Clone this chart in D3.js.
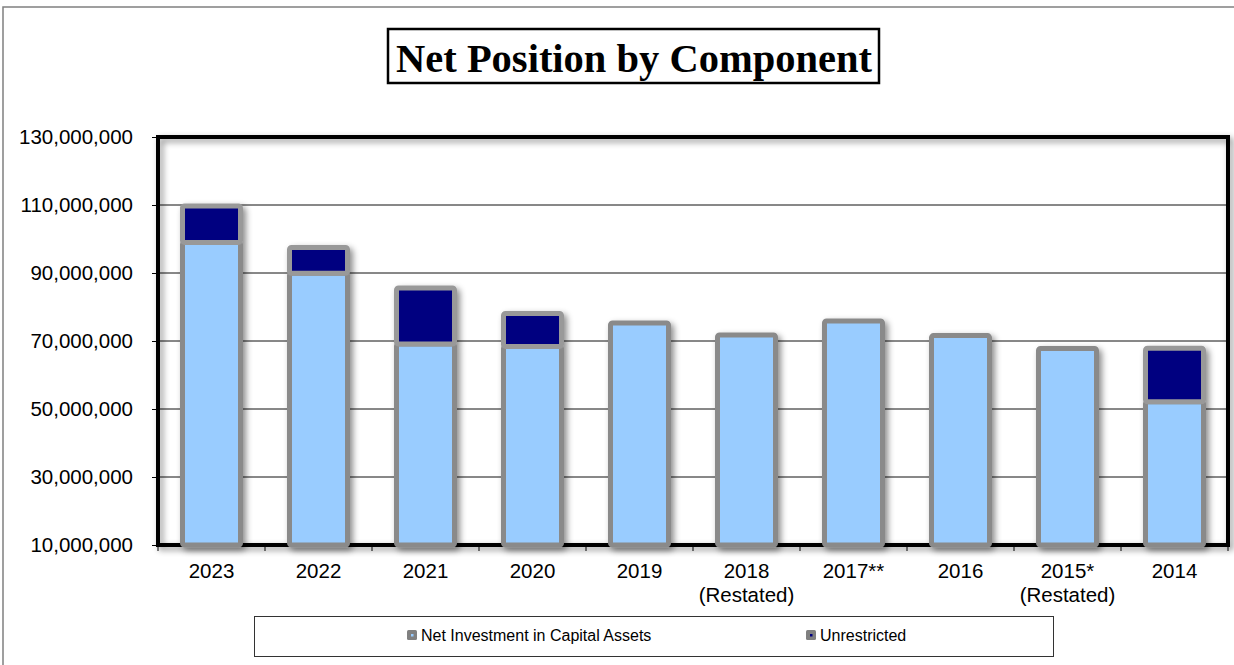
<!DOCTYPE html>
<html><head><meta charset="utf-8">
<script src="https://cdn.jsdelivr.net/npm/d3@7"></script>
<style>body{margin:0;background:#fff}svg{display:block}</style>
</head><body>
<svg id="c" width="1234" height="665"></svg>
<script>
const categories = ["2023","2022","2021","2020","2019","2018 (Restated)","2017**","2016","2015* (Restated)","2014"];
const capitalAssets = [99000000, 89900000, 69100000, 68400000, 75300000, 71800000, 75900000, 71600000, 67800000, 52100000];
const unrestricted = [10700000, 7600000, 16500000, 9700000, 0, 0, 0, 0, 0, 15800000];
const yTicks = [10000000, 30000000, 50000000, 70000000, 90000000, 110000000, 130000000];
const seriesNames = ["Net Investment in Capital Assets", "Unrestricted"];
const seriesColors = ["#99ccff", "#000080"];

const svg = d3.select("#c");
const L = 158, R = 1228, T = 137, B = 545;

// outer chart border
svg.append("rect").attr("x", 3).attr("y", 7).attr("width", 1240).attr("height", 670)
  .attr("fill", "none").attr("stroke", "#808080").attr("stroke-width", 1.5);

const defs = svg.append("defs");
const f = defs.append("filter").attr("id", "sh").attr("x", "-30%").attr("y", "-10%").attr("width", "160%").attr("height", "130%");
f.append("feDropShadow").attr("dx", 3).attr("dy", 3).attr("stdDeviation", 3).attr("flood-color", "#000").attr("flood-opacity", 0.45);

// title
const tg = svg.append("g");
tg.append("rect").attr("x", 388).attr("y", 29).attr("width", 491).attr("height", 54)
  .attr("fill", "#fff").attr("stroke", "#000").attr("stroke-width", 2.5);
tg.append("text").attr("x", 634).attr("y", 72).attr("text-anchor", "middle")
  .attr("font-family", "Liberation Serif, Times New Roman, serif").attr("font-weight", "bold")
  .attr("font-size", 40.5).text("Net Position by Component");

const y = d3.scaleLinear().domain([10000000, 130000000]).range([B, T]);

// gridlines
svg.append("g").selectAll("line").data(yTicks.slice(1, -1)).join("line")
  .attr("x1", L).attr("x2", R).attr("y1", d => y(d)).attr("y2", d => y(d))
  .attr("stroke", "#111").attr("stroke-width", 1);

// y axis
const ya = svg.append("g").attr("transform", `translate(${L},0)`)
  .call(d3.axisLeft(y).tickValues(yTicks).tickSize(6).tickPadding(19).tickFormat(d3.format(",")));
ya.select(".domain").remove();
ya.selectAll("text").attr("font-family", "Liberation Sans, Arial, sans-serif").attr("font-size", 20.5).attr("fill", "#000");
ya.selectAll("line").attr("stroke", "#000");

// x axis ticks at band boundaries
const bounds = d3.range(categories.length + 1).map(i => L + i * (R - L) / categories.length);
svg.append("g").selectAll("line").data(bounds).join("line")
  .attr("x1", d => d).attr("x2", d => d).attr("y1", B).attr("y2", B + 6).attr("stroke", "#000");

// frame
svg.append("rect").attr("x", L).attr("y", T).attr("width", R - L).attr("height", B - T)
  .attr("fill", "none").attr("stroke", "#000").attr("stroke-width", 4).attr("filter", "url(#sh)");

// x labels
const xl = svg.append("g");
categories.forEach((c, k) => {
  const cx = L + (R - L) / categories.length * (k + 0.5);
  c.split(" ").forEach((p, i) => {
    xl.append("text").attr("x", cx).attr("y", 578 + i * 24).attr("text-anchor", "middle")
      .attr("font-family", "Liberation Sans, Arial, sans-serif").attr("font-size", 20.5).text(p);
  });
});

// bars
const bw = 58;
const bars = svg.append("g");
categories.forEach((c, i) => {
  const cx = L + (R - L) / categories.length * (i + 0.5);
  const v0 = capitalAssets[i], v1 = unrestricted[i];
  const g = bars.append("g").attr("filter", "url(#sh)");
  g.append("rect").attr("x", cx - bw / 2).attr("width", bw)
    .attr("y", y(v0)).attr("height", y(10000000) - y(v0))
    .attr("fill", seriesColors[0]).attr("stroke", "#8a8a8a").attr("stroke-width", 5).attr("rx", 2);
  if (v1 > 0) {
    g.append("rect").attr("x", cx - bw / 2).attr("width", bw)
      .attr("y", y(v0 + v1)).attr("height", y(v0) - y(v0 + v1))
      .attr("fill", seriesColors[1]).attr("stroke", "#999").attr("stroke-width", 5).attr("rx", 2);
  }
});

// legend
const lg = svg.append("g");
lg.append("rect").attr("x", 254.5).attr("y", 616.5).attr("width", 799).attr("height", 40)
  .attr("fill", "#fff").attr("stroke", "#333").attr("stroke-width", 1);
const lx = [407, 806];
seriesNames.forEach((n, i) => {
  lg.append("rect").attr("x", lx[i]).attr("y", 630).attr("width", 10).attr("height", 10).attr("rx", 1.5)
    .attr("fill", "#808080");
  lg.append("rect").attr("x", lx[i] + 4).attr("y", 634).attr("width", 2.5).attr("height", 2.5)
    .attr("fill", seriesColors[i]);
  lg.append("text").attr("x", lx[i] + 14).attr("y", 641)
    .attr("font-family", "Liberation Sans, Arial, sans-serif").attr("font-size", 16).text(n);
});
</script>
</body></html>
